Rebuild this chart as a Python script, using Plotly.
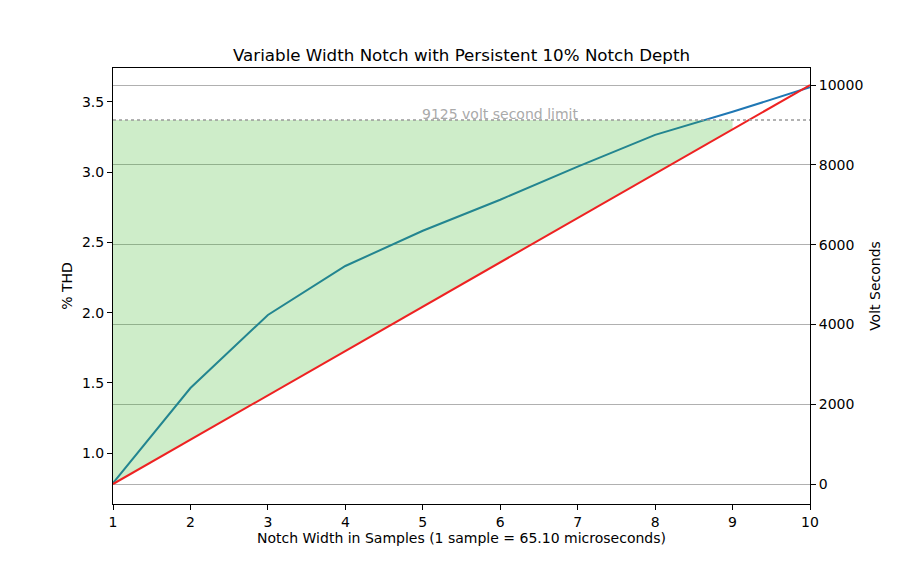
import plotly.graph_objects as go

# notch width in samples
samples = [1, 2, 3, 4, 5, 6, 7, 8, 9, 10]
# % THD
thd = [0.786, 1.463, 1.983, 2.332, 2.583, 2.804, 3.04, 3.266, 3.43, 3.605]
# volt seconds
volt_sec = [0, 1111, 2222, 3333, 4444, 5556, 6667, 7778, 8889, 10000]
vs_limit = 9125
limit_label = "9125 volt second limit"

font = "DejaVu Sans, Liberation Sans, sans-serif"

fig = go.Figure()

# THD on left axis
fig.add_scatter(x=samples, y=thd, mode="lines",
                line=dict(color="#1f77b4", width=2), showlegend=False)

# shaded region between volt seconds and the limit (right axis)
fig.add_scatter(x=samples[:-1], y=[vs_limit] * len(samples[:-1]), yaxis="y2",
                mode="lines", line=dict(width=0), showlegend=False, hoverinfo="skip")
fig.add_scatter(x=samples[:-1], y=volt_sec[:-1], yaxis="y2", mode="lines",
                line=dict(width=0), fill="tonexty",
                fillcolor="rgba(50,180,30,0.24)", showlegend=False, hoverinfo="skip")

# volt seconds
fig.add_scatter(x=samples, y=volt_sec, yaxis="y2", mode="lines",
                line=dict(color="#ee2222", width=2), showlegend=False)

# limit line
fig.add_shape(type="line", xref="x domain", x0=0, x1=1, yref="y2",
              y0=vs_limit, y1=vs_limit, layer="above",
              line=dict(color="#999999", width=1.5, dash="dot"))
fig.add_annotation(x=5, y=vs_limit, yref="y2", text=limit_label, showarrow=False,
                   xanchor="left", yanchor="bottom", yshift=-4, xshift=-3,
                   font=dict(color="#aaaaaa", size=14, family=font))

# page body has an 8px margin, so the margins are shifted to land the axes where the reference has them
fig.update_layout(
    width=900, height=566,
    paper_bgcolor="white", plot_bgcolor="white",
    margin=dict(l=105, r=98, t=60, b=70),
    font=dict(family=font, size=14, color="black"),
    title=dict(text="Variable Width Notch with Persistent 10% Notch Depth",
               xref="paper", x=0.5, xanchor="center", y=0.917, yanchor="middle",
               font=dict(size=16.7)),
    xaxis=dict(range=[1, 10], tickvals=samples, showgrid=False, zeroline=False,
               showline=True, linecolor="black", linewidth=1, mirror=True,
               ticks="outside", ticklen=5, tickcolor="black",
               title=dict(text="Notch Width in Samples (1 sample = 65.10 microseconds)",
                          standoff=4, font=dict(size=14))),
    yaxis=dict(range=[0.637, 3.742], tickvals=[1.0, 1.5, 2.0, 2.5, 3.0, 3.5],
               tickformat=".1f", showgrid=False, zeroline=False,
               showline=True, linecolor="black", linewidth=1,
               ticks="outside", ticklen=5, tickcolor="black",
               title=dict(text="% THD", standoff=6, font=dict(size=14))),
    yaxis2=dict(range=[-501, 10426], tickvals=[0, 2000, 4000, 6000, 8000, 10000],
                tickformat="d",
                overlaying="y", side="right", showgrid=True, gridcolor="#b0b0b0",
                gridwidth=1, zeroline=False, showline=True, linecolor="black",
                linewidth=1, ticks="outside", ticklen=5, tickcolor="black",
                title=dict(text="Volt Seconds", standoff=7, font=dict(size=14))),
)

fig.write_html("out.html")
